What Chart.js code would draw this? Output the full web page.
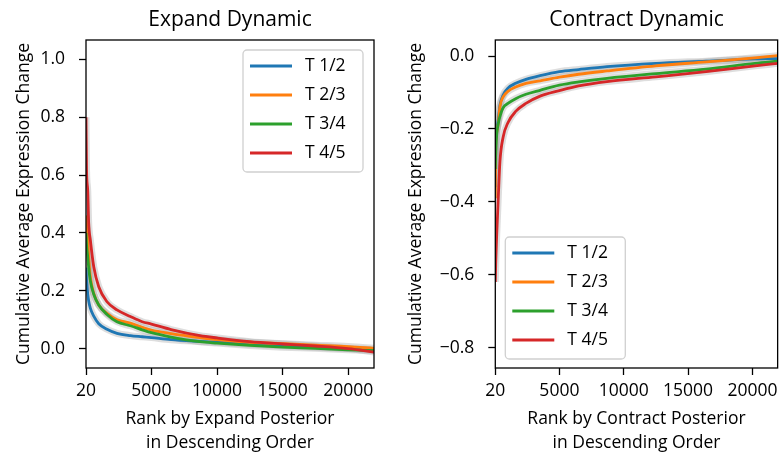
<!DOCTYPE html>
<html>
<head>
<meta charset="utf-8">
<script src="https://cdn.jsdelivr.net/npm/chart.js@4"></script>
<style>
  html, body { margin: 0; padding: 0; background: #fff; }
  #wrap { position: relative; width: 784px; height: 456px; overflow: hidden; }
  .panel { position: absolute; top: 0; width: 392px; height: 456px; }
</style>
</head>
<body>
<div id="wrap">
  <div class="panel" style="left:0"><canvas id="expandChart" width="392" height="456"></canvas></div>
  <div class="panel" style="left:392px"><canvas id="contractChart" width="392" height="456"></canvas></div>
</div>
<script>
// --- Data ---
const seriesLabels = ['T 1/2', 'T 2/3', 'T 3/4', 'T 4/5'];
const seriesColors = ['#1f77b4', '#ff7f0e', '#2ca02c', '#d62728'];
const xTicks = [20, 5000, 10000, 15000, 20000];
const expandYTicks = [0, 0.2, 0.4, 0.6, 0.8, 1.0];
const contractYTicks = [-0.8, -0.6, -0.4, -0.2, 0];

const expandRanks = [20, 60, 150, 225, 350, 610, 990, 1620, 2380, 3400, 4300, 5000, 6500, 8700, 10000, 12500, 15000, 17500, 20000, 21960];
const expandT12 = [0.28, 0.24, 0.19, 0.165, 0.14, 0.112, 0.086, 0.067, 0.053, 0.045, 0.041, 0.038, 0.031, 0.025, 0.022, 0.015, 0.010, 0.005, 0.0, -0.004];
const expandT23 = [0.46, 0.43, 0.39, 0.318, 0.249, 0.191, 0.151, 0.122, 0.100, 0.088, 0.074, 0.064, 0.052, 0.038, 0.031, 0.022, 0.017, 0.012, 0.007, 0.001];
const expandT34 = [0.40, 0.36, 0.318, 0.28, 0.235, 0.188, 0.151, 0.118, 0.093, 0.079, 0.065, 0.055, 0.040, 0.024, 0.019, 0.011, 0.005, 0.001, -0.004, -0.007];
const expandT45 = [0.80, 0.62, 0.548, 0.433, 0.376, 0.283, 0.214, 0.162, 0.134, 0.111, 0.093, 0.085, 0.066, 0.045, 0.037, 0.024, 0.016, 0.009, 0.0, -0.012];

const contractRanks = [20, 60, 130, 250, 380, 630, 1000, 1600, 2400, 3500, 5000, 6500, 8700, 12500, 16400, 20200, 21960];
const contractT12 = [-0.36, -0.23, -0.20, -0.175, -0.135, -0.107, -0.088, -0.075, -0.064, -0.054, -0.043, -0.037, -0.029, -0.020, -0.014, -0.008, -0.007];
const contractT23 = [-0.39, -0.24, -0.21, -0.185, -0.139, -0.112, -0.097, -0.085, -0.075, -0.068, -0.058, -0.050, -0.041, -0.027, -0.016, -0.005, 0.001];
const contractT34 = [-0.31, -0.26, -0.215, -0.185, -0.166, -0.142, -0.130, -0.117, -0.105, -0.094, -0.080, -0.071, -0.061, -0.048, -0.036, -0.020, -0.014];
const contractT45 = [-0.62, -0.56, -0.49, -0.39, -0.29, -0.222, -0.183, -0.152, -0.130, -0.110, -0.095, -0.082, -0.070, -0.057, -0.043, -0.027, -0.020];

const FONT = '"Open Sans", "DejaVu Sans", sans-serif';

// --- Plugins ---
const frame = {
    id: 'frame',
    afterDatasetsDraw(chart) {
        const { ctx, chartArea: a } = chart;
        ctx.save();
        ctx.strokeStyle = '#000';
        ctx.lineWidth = 1.3;
        ctx.strokeRect(a.left, a.top, a.right - a.left, a.bottom - a.top);
        ctx.restore();
    }
};

const innerLegend = {
    id: 'innerLegend',
    afterDraw(chart, args, opts) {
        const { ctx, chartArea: a } = chart;
        const items = chart.data.datasets.filter(d => !d.isBand);
        const w = 120, h = 122;
        const x0 = opts.corner === 'upper right' ? a.right - 11 - w : a.left + 10;
        const y0 = opts.corner === 'upper right' ? a.top + 10 : a.bottom - 9 - h;
        ctx.save();
        ctx.beginPath();
        ctx.roundRect(x0, y0, w, h, 4);
        ctx.fillStyle = 'rgba(255,255,255,0.85)';
        ctx.fill();
        ctx.strokeStyle = '#d0d0d0';
        ctx.lineWidth = 1.3;
        ctx.stroke();
        items.forEach((d, i) => {
            const y = y0 + 16 + i * 29;
            ctx.strokeStyle = d.borderColor;
            ctx.lineWidth = 3;
            ctx.beginPath();
            ctx.moveTo(x0 + 7, y);
            ctx.lineTo(x0 + 49, y);
            ctx.stroke();
            ctx.fillStyle = '#000';
            ctx.font = '17.5px ' + FONT;
            ctx.textBaseline = 'middle';
            ctx.fillText(d.label, x0 + 62, y);
        });
        ctx.restore();
    }
};

// --- Builders ---
function makeDatasets(ranks, seriesList) {
    const lines = seriesList.map((vals, i) => ({
        label: seriesLabels[i],
        data: ranks.map((r, j) => ({ x: r, y: vals[j] })),
        borderColor: seriesColors[i],
        borderWidth: 2.8,
        pointRadius: 0,
        cubicInterpolationMode: 'monotone',
        order: 4 - i
    }));
    const bands = seriesList.map(vals => ({
        isBand: true,
        data: ranks.map((r, j) => ({ x: r, y: vals[j] })),
        borderColor: 'rgba(160,160,160,0.35)',
        borderWidth: 7,
        borderJoinStyle: 'round',
        pointRadius: 0,
        cubicInterpolationMode: 'monotone',
        order: 10
    }));
    return lines.concat(bands);
}

function fmtY(v) {
    if (Math.abs(v) < 1e-9) return '0.0';
    return v.toFixed(1).replace('-', '\u2212');
}

function makeChart(id, cfg) {
    return new Chart(document.getElementById(id), {
        type: 'line',
        data: { datasets: makeDatasets(cfg.ranks, cfg.series) },
        plugins: [frame, innerLegend],
        options: {
            responsive: false,
            animation: false,
            devicePixelRatio: 1,
            layout: { padding: { left: 0, right: cfg.padRight, top: 0, bottom: 0 } },
            plugins: {
                legend: { display: false },
                tooltip: { enabled: false },
                title: {
                    display: true,
                    text: cfg.title,
                    fullSize: false,
                    color: '#000',
                    font: { family: FONT, size: 21, weight: 'normal', lineHeight: 1.2 },
                    padding: { top: 7, bottom: 7.8 }
                },
                innerLegend: { corner: cfg.legendCorner }
            },
            scales: {
                x: {
                    type: 'linear',
                    min: 20,
                    max: 21960,
                    afterBuildTicks: s => { s.ticks = xTicks.map(v => ({ value: v })); },
                    afterFit: s => { s.height = 88; },
                    border: { display: false },
                    grid: { drawOnChartArea: false, drawTicks: true, tickLength: 7, tickColor: '#000', tickWidth: 1.3 },
                    ticks: {
                        color: '#000',
                        font: { family: FONT, size: 17.5 },
                        padding: 6,
                        maxRotation: 0,
                        callback: v => String(v)
                    },
                    title: {
                        display: true,
                        text: cfg.xTitle,
                        color: '#000',
                        font: { family: FONT, size: 17.5, lineHeight: 1.37 },
                        padding: { top: 0, bottom: 1 }
                    }
                },
                y: {
                    min: cfg.yMin,
                    max: cfg.yMax,
                    afterBuildTicks: s => { s.ticks = cfg.yTicks.map(v => ({ value: v })); },
                    afterFit: s => { s.width = cfg.yWidth; },
                    border: { display: false },
                    grid: { drawOnChartArea: false, drawTicks: true, tickLength: 7, tickColor: '#000', tickWidth: 1.3 },
                    ticks: {
                        color: '#000',
                        font: { family: FONT, size: 17.5 },
                        padding: 14,
                        callback: v => fmtY(v)
                    },
                    title: {
                        display: true,
                        text: 'Cumulative Average Expression Change',
                        color: '#000',
                        font: { family: FONT, size: 17.5 },
                        padding: { top: 13.5, bottom: 0 }
                    }
                }
            }
        }
    });
}

makeChart('expandChart', {
    title: 'Expand Dynamic',
    xTitle: ['Rank by Expand Posterior', 'in Descending Order'],
    ranks: expandRanks,
    series: [expandT12, expandT23, expandT34, expandT45],
    yMin: -0.067, yMax: 1.067,
    yTicks: expandYTicks,
    yWidth: 86,
    padRight: 18,
    legendCorner: 'upper right'
});

makeChart('contractChart', {
    title: 'Contract Dynamic',
    xTitle: ['Rank by Contract Posterior', 'in Descending Order'],
    ranks: contractRanks,
    series: [contractT12, contractT23, contractT34, contractT45],
    yMin: -0.856, yMax: 0.044,
    yTicks: contractYTicks,
    yWidth: 103.3,
    padRight: 1.3,
    legendCorner: 'lower left'
});
</script>
</body>
</html>
